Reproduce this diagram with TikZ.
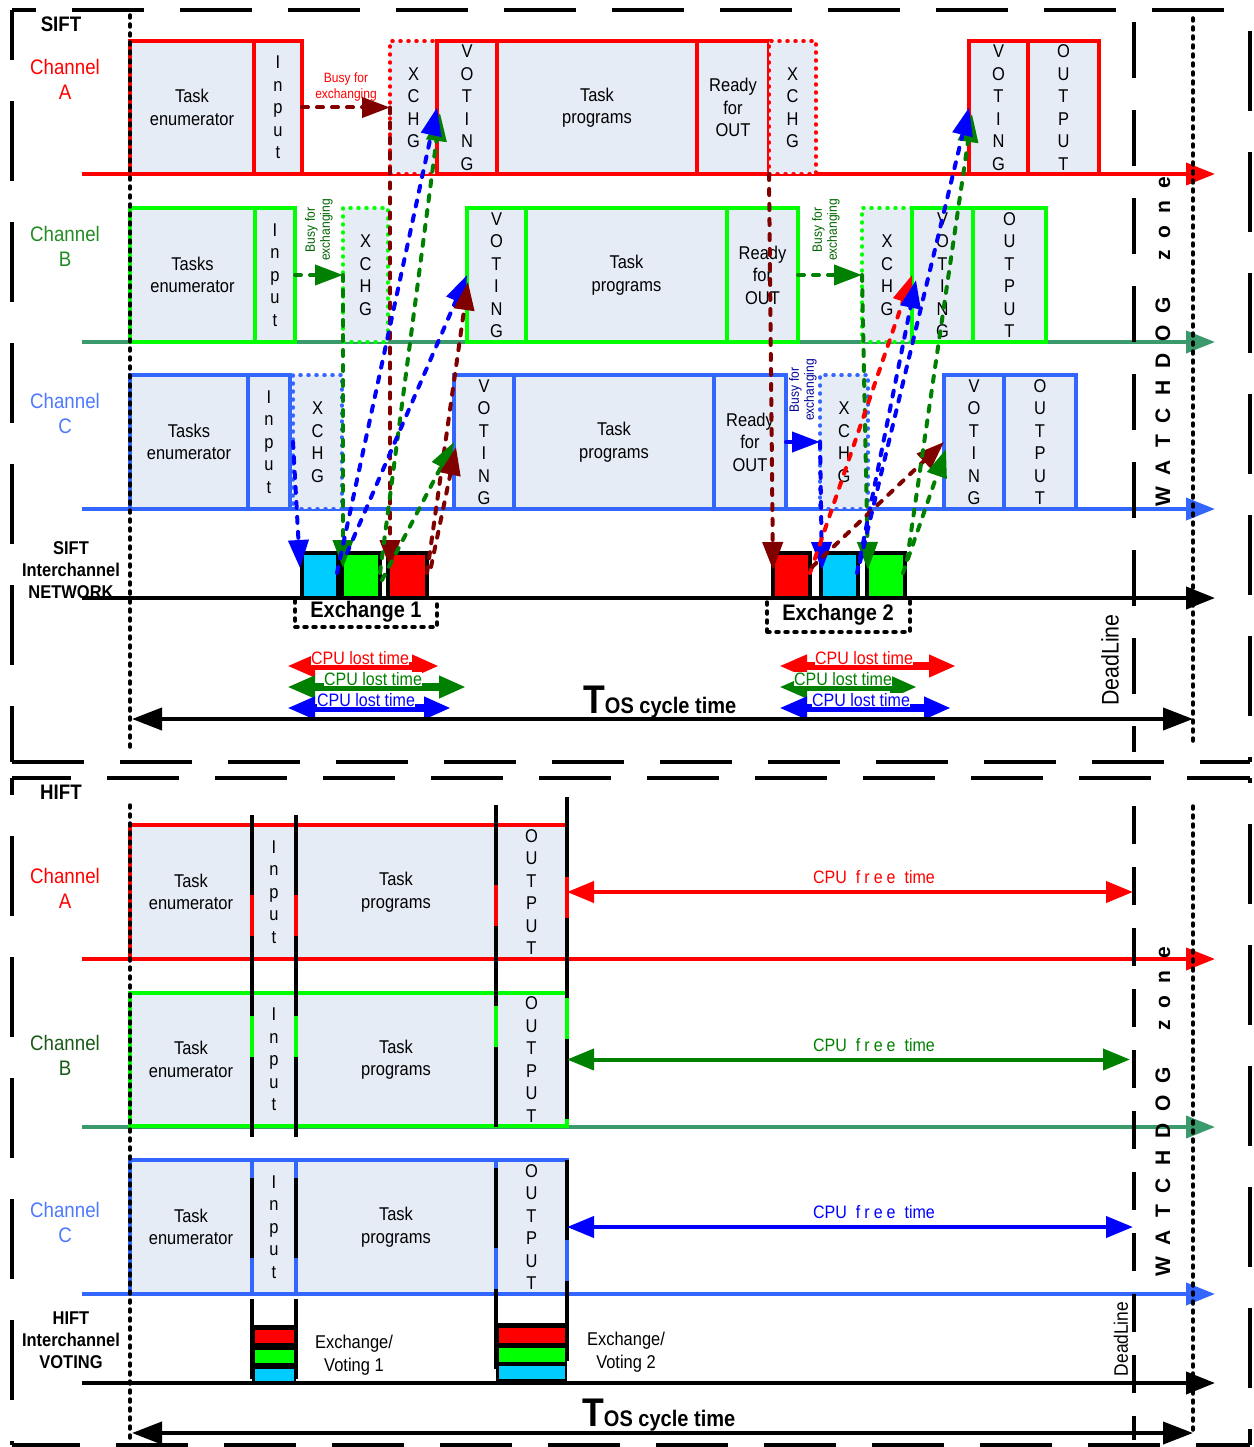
\documentclass[tikz,border=0pt]{standalone}
\usepackage{fontspec}
\setmainfont{Liberation Sans}[FakeStretch=0.89]
\newfontfamily\wdfont{Liberation Sans}
\usetikzlibrary{arrows.meta}
\definecolor{cA}{RGB}{255,0,0}
\definecolor{cB}{RGB}{0,255,0}
\definecolor{cBl}{RGB}{58,154,108}
\definecolor{cBt}{RGB}{34,139,34}
\definecolor{cBh}{RGB}{25,90,25}
\definecolor{cC}{RGB}{51,102,255}
\definecolor{cCt}{RGB}{77,121,255}
\definecolor{bfill}{RGB}{230,236,246}
\definecolor{arA}{RGB}{128,0,0}
\definecolor{arB}{RGB}{0,128,0}
\definecolor{arC}{RGB}{0,0,255}
\definecolor{cyanb}{RGB}{0,204,255}
\definecolor{navyt}{RGB}{0,0,150}
\definecolor{busyB}{RGB}{0,100,0}
\newcommand\fsz[2]{\fontsize{#1}{#2}\selectfont}
\newcommand\wdgap{\hspace{12pt}}
\newcommand\wdtext{W\wdgap A\wdgap T\wdgap C\wdgap H\wdgap D\wdgap O\wdgap G\hspace{36pt}z\wdgap o\wdgap n\wdgap e}
\newcommand\freetext{CPU\hspace{9pt}f\hspace{4pt}r\hspace{4pt}e\hspace{4pt}e\hspace{9pt}time}
\begin{document}
\begin{tikzpicture}[x=1pt,y=-1pt,
  box/.style={draw,line width=4pt,fill=bfill,inner sep=0pt,outer sep=0pt,anchor=north west,align=center,font=\fsz{18.5}{22.5}},
  xbox/.style={box,line width=3.5pt,dash pattern=on 1pt off 7pt,line cap=round},
  bw/.style={minimum width=#1pt},
  sA/.style={box,draw=cA,minimum height=133pt},
  sAx/.style={xbox,draw=cA,minimum height=133pt},
  sB/.style={box,draw=cB,minimum height=134pt},
  sBx/.style={xbox,draw=cB,minimum height=134pt},
  sC/.style={box,draw=cC,minimum height=134pt},
  sCx/.style={xbox,draw=cC,minimum height=134pt},
  hA/.style={box,draw=cA,minimum height=134pt},
  hB/.style={box,draw=cB,minimum height=133pt},
  hC/.style={box,draw=cC,minimum height=134pt},
  nbox/.style={draw=black,line width=4pt,inner sep=0pt,outer sep=0pt,anchor=north west,minimum height=45pt},
  exbox/.style={draw=black,line width=3.5pt,dash pattern=on 3pt off 6pt,line cap=round,inner sep=0pt,outer sep=0pt,anchor=north west},
  tline/.style={line width=4pt,-{Triangle[length=29pt,width=22pt]}},
  conn/.style={line width=4pt,dash pattern=on 6pt off 9pt,line cap=round,-{Triangle[length=28pt,width=20pt]}},
  lost/.style={line width=8pt,{Triangle[length=28pt,width=21pt]}-{Triangle[length=27pt,width=21pt]}},
  lostlbl/.style={fill=white,inner sep=0.5pt,anchor=south,font=\fsz{18}{18}},
  free/.style={line width=4pt,{Triangle[length=27pt,width=21pt]}-{Triangle[length=27pt,width=21pt]}},
  freelbl/.style={font=\fsz{18}{18}},
  tos/.style={line width=4pt,{Triangle[length=30pt,width=22pt]}-{Triangle[length=30pt,width=22pt]}},
  chl/.style={align=center,font=\fsz{21}{25}},
  netl/.style={align=center,font=\bfseries\fsz{18.5}{22}},
  busyv/.style={rotate=90,align=center,font=\fsz{13.5}{15}},
  frameh/.style={line width=4pt,dash pattern=on 72pt off 36pt},
  framev/.style={line width=4pt,dash pattern=on 80pt off 41pt},
  dotv/.style={line width=3.5pt,dash pattern=on 3pt off 6pt,line cap=round},
  hdash/.style={line width=4pt,dash pattern=on 80pt off 41pt},
  wdog/.style={rotate=90,font=\wdfont\bfseries\fsz{21}{21}},
  vbar/.style={fill=black,inner sep=0pt,outer sep=0pt,anchor=north west},
]
\useasboundingbox (0,0) rectangle (1253,1447);

% ---------------- frames
\draw[frameh,dash phase=48pt] (12,10) -- (1250,10);
\draw[framev,dash phase=30pt] (12,10) -- (12,762);
\draw[frameh] (12,762) -- (1250,762);
\draw[framev,dash phase=100pt] (1250,10) -- (1250,762);
\draw[frameh,dash phase=13pt] (12,778) -- (1250,778);
\draw[framev,dash phase=63pt] (12,778) -- (12,1445);
\draw[frameh,dash phase=4pt] (12,1445) -- (1250,1445);
\draw[framev,dash phase=75pt] (1250,778) -- (1250,1445);

% ---------------- timelines
\coordinate (tA0) at (82,174); \coordinate (tA1) at (1215,174);
\coordinate (tB0) at (82,342); \coordinate (tB1) at (1215,342);
\coordinate (tC0) at (82,509); \coordinate (tC1) at (1215,509);
\coordinate (tN0) at (82,598); \coordinate (tN1) at (1215,598);
\draw[tline,cA] (tA0) -- (tA1);
\draw[tline,cBl] (tB0) -- (tB1);
\draw[tline,cC] (tC0) -- (tC1);
\draw[tline,black] (tN0) -- (tN1);
\coordinate (hA0) at (82,959); \coordinate (hA1) at (1215,959);
\coordinate (hB0) at (82,1127); \coordinate (hB1) at (1215,1127);
\coordinate (hC0) at (82,1294); \coordinate (hC1) at (1215,1294);
\coordinate (hV0) at (82,1383); \coordinate (hV1) at (1215,1383);
\draw[tline,cA] (hA0) -- (hA1);
\draw[tline,cBl] (hB0) -- (hB1);
\draw[tline,cC] (hC0) -- (hC1);
\draw[tline,black] (hV0) -- (hV1);

% ---------------- SIFT channel A
\node[sA,bw=124] (Ate) at (130,41) {Task\\enumerator};
\node[sA,bw=48] (Ain) at (254,41) {I\\n\\p\\u\\t};
\node[sAx,bw=47] (Ax1) at (390,41) {X\\C\\H\\G};
\node[sA,bw=60] (Av1) at (437,41) {V\\O\\T\\I\\N\\G};
\node[sA,bw=200] (Atp) at (497,41) {Task\\programs};
\node[sA,bw=72] (Aro) at (697,41) {Ready\\for\\OUT};
\node[sAx,bw=47] (Ax2) at (769,41) {X\\C\\H\\G};
\node[sA,bw=59] (Av2) at (969,41) {V\\O\\T\\I\\N\\G};
\node[sA,bw=71] (Aout) at (1028,41) {O\\U\\T\\P\\U\\T};
% channel B
\node[sB,bw=125] (Bte) at (130,208) {Tasks\\enumerator};
\node[sB,bw=40] (Bin) at (255,208) {I\\n\\p\\u\\t};
\node[sBx,bw=45] (Bx1) at (343,208) {X\\C\\H\\G};
\node[sB,bw=59] (Bv1) at (467,208) {V\\O\\T\\I\\N\\G};
\node[sB,bw=201] (Btp) at (526,208) {Task\\programs};
\node[sB,bw=71] (Bro) at (727,208) {Ready\\for\\OUT};
\node[sBx,bw=50] (Bx2) at (862,208) {X\\C\\H\\G};
\node[sB,bw=61] (Bv2) at (912,208) {V\\O\\T\\I\\N\\G};
\node[sB,bw=73] (Bout) at (973,208) {O\\U\\T\\P\\U\\T};
% channel C
\node[sC,bw=118] (Cte) at (130,375) {Tasks\\enumerator};
\node[sC,bw=42] (Cin) at (248,375) {I\\n\\p\\u\\t};
\node[sCx,bw=49] (Cx1) at (293,375) {X\\C\\H\\G};
\node[sC,bw=60] (Cv1) at (454,375) {V\\O\\T\\I\\N\\G};
\node[sC,bw=200] (Ctp) at (514,375) {Task\\programs};
\node[sC,bw=72] (Cro) at (714,375) {Ready\\for\\OUT};
\node[sCx,bw=48] (Cx2) at (820,375) {X\\C\\H\\G};
\node[sC,bw=60] (Cv2) at (944,375) {V\\O\\T\\I\\N\\G};
\node[sC,bw=72] (Cout) at (1004,375) {O\\U\\T\\P\\U\\T};

% network boxes
\node[nbox,fill=cyanb,bw=36] (N1c) at (302,553) {};
\node[nbox,fill=cB,bw=38] (N1g) at (342,553) {};
\node[nbox,fill=cA,bw=39] (N1r) at (388,553) {};
\node[nbox,fill=cA,bw=37] (N2r) at (773,553) {};
\node[nbox,fill=cyanb,bw=37] (N2c) at (821,553) {};
\node[nbox,fill=cB,bw=38] (N2g) at (867,553) {};
\node[exbox,bw=142,minimum height=29pt] (E1) at (295,598) {};
\node[exbox,bw=143,minimum height=34pt] (E2) at (767,598) {};
\node[font=\bfseries\fsz{22.5}{22.5}] (E1t) at (366,612) {Exchange 1};
\node[font=\bfseries\fsz{22.5}{22.5}] (E2t) at (838,615) {Exchange 2};

% ---------------- HIFT boxes
\node[hA,bw=122] (HAte) at (130,825) {Task\\enumerator};
\node[hA,bw=44] (HAin) at (252,825) {I\\n\\p\\u\\t};
\node[hA,bw=200] (HAtp) at (296,825) {Task\\programs};
\node[hA,bw=71] (HAout) at (496,825) {O\\U\\T\\P\\U\\T};
\node[hB,bw=122] (HBte) at (130,993) {Task\\enumerator};
\node[hB,bw=44] (HBin) at (252,993) {I\\n\\p\\u\\t};
\node[hB,bw=200] (HBtp) at (296,993) {Task\\programs};
\node[hB,bw=71] (HBout) at (496,993) {O\\U\\T\\P\\U\\T};
\node[hC,bw=122] (HCte) at (130,1160) {Task\\enumerator};
\node[hC,bw=44] (HCin) at (252,1160) {I\\n\\p\\u\\t};
\node[hC,bw=200] (HCtp) at (296,1160) {Task\\programs};
\node[hC,bw=71] (HCout) at (496,1160) {O\\U\\T\\P\\U\\T};

\draw[hdash] (252,815) -- (252,1385);
\draw[hdash] (296,815) -- (296,1385);
\draw[hdash] (496,805) -- (496,1385);
\draw[hdash] (567,797) -- (567,1385);

\node[vbar,minimum width=44pt,minimum height=60pt] (V1) at (252,1325) {};
\fill[cA] (254.5,1330) rectangle (293.5,1343);
\fill[cB] (254.5,1350) rectangle (293.5,1363);
\fill[cyanb] (254.5,1369) rectangle (293.5,1381);
\node[vbar,minimum width=71pt,minimum height=62pt] (V2) at (496,1323) {};
\fill[cA] (498.5,1328) rectangle (564.5,1343);
\fill[cB] (498.5,1348) rectangle (564.5,1362);
\fill[cyanb] (498.5,1366) rectangle (564.5,1379);
\node[align=center,font=\fsz{18.5}{23}] (EV1) at (354,1355) {Exchange/\\Voting 1};
\node[align=center,font=\fsz{18.5}{23}] (EV2) at (626,1352) {Exchange/\\Voting 2};

% ---------------- vertical guide lines
\draw[dotv] (130,15) -- (130,752);
\draw[dotv] (130,805) -- (130,1440);
\draw[dotv] (1193,18) -- (1193,745);
\draw[dotv] (1193,806) -- (1193,1432);
\draw[line width=4pt,dash pattern=on 56pt off 32pt] (1134,22) -- (1134,752);
\draw[line width=4pt,dash pattern=on 38pt off 23pt] (1134,806) -- (1134,1440);

% ---------------- exchange 1 connectors
\draw[conn,arA] (Ain.east) -- (Ax1.west);
\coordinate (d1r) at (390,568);
\draw[conn,arA] (Ax1.west) -- (d1r);
\draw[conn,arB] (Bin.east) -- (Bx1.west);
\coordinate (d1g) at (343,568);
\draw[conn,arB] (Bx1.west) -- (d1g);
\coordinate (d1c) at (300,568);
\draw[conn,arC] (Cx1.west) -- (d1c);

\coordinate (u1cA) at (337,573); \coordinate (u1cB) at (347,553);
\coordinate (u1gA) at (380,573); \coordinate (u1gC) at (382,580);
\coordinate (u1rB) at (427,573); \coordinate (u1rC) at (431,567);
\coordinate (h1gA) at (440,113); \coordinate (h1rB) at (468,282); \coordinate (h1rC) at (456,447);
\draw[conn,arB] (u1gA) -- (h1gA);
\draw[conn,arC] (u1cA) -- (Av1.west);
\draw[conn,arC] (u1cB) -- (Bv1.west);
\draw[conn,arA] (u1rB) -- (h1rB);
\draw[conn,arB] (u1gC) -- (Cv1.west);
\draw[conn,arA] (u1rC) -- (h1rC);

% ---------------- exchange 2 connectors
\coordinate (d2r) at (773,570);
\draw[conn,arA] (Aro.south east) -- (d2r);
\draw[conn,arB] (Bro.east) -- (Bx2.west);
\coordinate (d2g) at (868,570);
\draw[conn,arB] (Bx2.west) -- (d2g);
\draw[conn,arC] (Cro.east) -- (Cx2.west);
\coordinate (d2c) at (822,570);
\draw[conn,arC] (Cx2.west) -- (d2c);

\coordinate (u2rB) at (810,573); \coordinate (u2rC) at (812,567);
\coordinate (u2cB) at (857,573); \coordinate (u2cA) at (860,562);
\coordinate (u2gA) at (907,560); \coordinate (u2gC) at (903,573);
\coordinate (h2cB) at (916,280); \coordinate (h2gA) at (972,114); \coordinate (h2gC) at (946,449);
\draw[conn,cA] (u2rB) -- (Bv2.west);
\draw[conn,arC] (u2cB) -- (h2cB);
\draw[conn,arA] (u2rC) -- (Cv2.west);
\draw[conn,arB] (u2gC) -- (h2gC);
\draw[conn,arB] (u2gA) -- (h2gA);
\draw[conn,arC] (u2cA) -- (Av2.west);

% ---------------- CPU lost time
\coordinate (l1r0) at (287,666); \coordinate (l1r1) at (439,666);
\draw[lost,cA] (l1r0) -- (l1r1);
\node[lostlbl,text=cA] (l1rt) at (360,665) {CPU lost time};
\coordinate (l1g0) at (287,687); \coordinate (l1g1) at (466,687);
\draw[lost,arB] (l1g0) -- (l1g1);
\node[lostlbl,text=arB] (l1gt) at (373,686) {CPU lost time};
\coordinate (l1b0) at (287,708); \coordinate (l1b1) at (451,708);
\draw[lost,arC] (l1b0) -- (l1b1);
\node[lostlbl,text=arC] (l1bt) at (366,707) {CPU lost time};
\coordinate (l2r0) at (779,666); \coordinate (l2r1) at (956,666);
\draw[lost,cA] (l2r0) -- (l2r1);
\node[lostlbl,text=cA] (l2rt) at (864,665) {CPU lost time};
\coordinate (l2g0) at (779,687); \coordinate (l2g1) at (917,687);
\draw[lost,arB] (l2g0) -- (l2g1);
\node[lostlbl,text=arB] (l2gt) at (843,686) {CPU lost time};
\coordinate (l2b0) at (779,708); \coordinate (l2b1) at (951,708);
\draw[lost,arC] (l2b0) -- (l2b1);
\node[lostlbl,text=arC] (l2bt) at (861,707) {CPU lost time};

% ---------------- Tos
\coordinate (tos0) at (132,719); \coordinate (tos1) at (1193,719);
\draw[tos] (tos0) -- (tos1);
\node[anchor=base west,inner sep=0pt,font=\bfseries] (tost) at (583,713) {\fsz{40}{40}T\fsz{22.5}{22.5}OS cycle time};
\coordinate (htos0) at (132,1433); \coordinate (htos1) at (1193,1433);
\draw[tos] (htos0) -- (htos1);
\node[anchor=base west,inner sep=0pt,font=\bfseries] (htost) at (582,1426) {\fsz{40}{40}T\fsz{22.5}{22.5}OS cycle time};

% ---------------- CPU free time
\coordinate (fA) at (1133,892);
\draw[free,cA] (HAout.east) -- (fA);
\node[freelbl,text=cA] (fAt) at (874,877) {\freetext};
\coordinate (fB) at (1130,1059.5);
\draw[free,arB] (HBout.east) -- (fB);
\node[freelbl,text=arB] (fBt) at (874,1045) {\freetext};
\coordinate (fC) at (1133,1227);
\draw[free,arC] (HCout.east) -- (fC);
\node[freelbl,text=arC] (fCt) at (874,1212) {\freetext};

% ---------------- labels
\node[font=\bfseries\fsz{21}{21}] (siftL) at (61,24) {SIFT};
\node[font=\bfseries\fsz{21}{21}] (hiftL) at (61,792) {HIFT};
\node[chl,text=cA] (chA) at (65,79) {Channel\\A};
\node[chl,text=cBt] (chB) at (65,246) {Channel\\B};
\node[chl,text=cCt] (chC) at (65,413) {Channel\\C};
\node[netl] (netL) at (71,570) {SIFT\\Interchannel\\NETWORK};
\node[chl,text=cA] (hchA) at (65,888) {Channel\\A};
\node[chl,text=cBh] (hchB) at (65,1055) {Channel\\B};
\node[chl,text=cCt] (hchC) at (65,1222) {Channel\\C};
\node[netl] (hnetL) at (71,1340) {HIFT\\Interchannel\\VOTING};

\node[align=center,text=cA,font=\fsz{13.5}{16}] (busyA) at (346,87) {Busy for\\exchanging};
\node[busyv,text=busyB] (busyB1) at (319,230) {Busy for\\exchanging};
\node[busyv,text=busyB] (busyB2) at (826,230) {Busy for\\exchanging};
\node[busyv,text=navyt] (busyC2) at (803,390) {Busy for\\exchanging};

\node[wdog] (wd1) at (1163,342) {\wdtext};
\node[wdog] (wd2) at (1163,1112) {\wdtext};
\node[rotate=90,font=\fsz{24}{24}] (dl1) at (1110,660) {DeadLine};
\node[rotate=90,font=\fsz{19.5}{19.5}] (dl2) at (1121,1339) {DeadLine};
\end{tikzpicture}
\end{document}
